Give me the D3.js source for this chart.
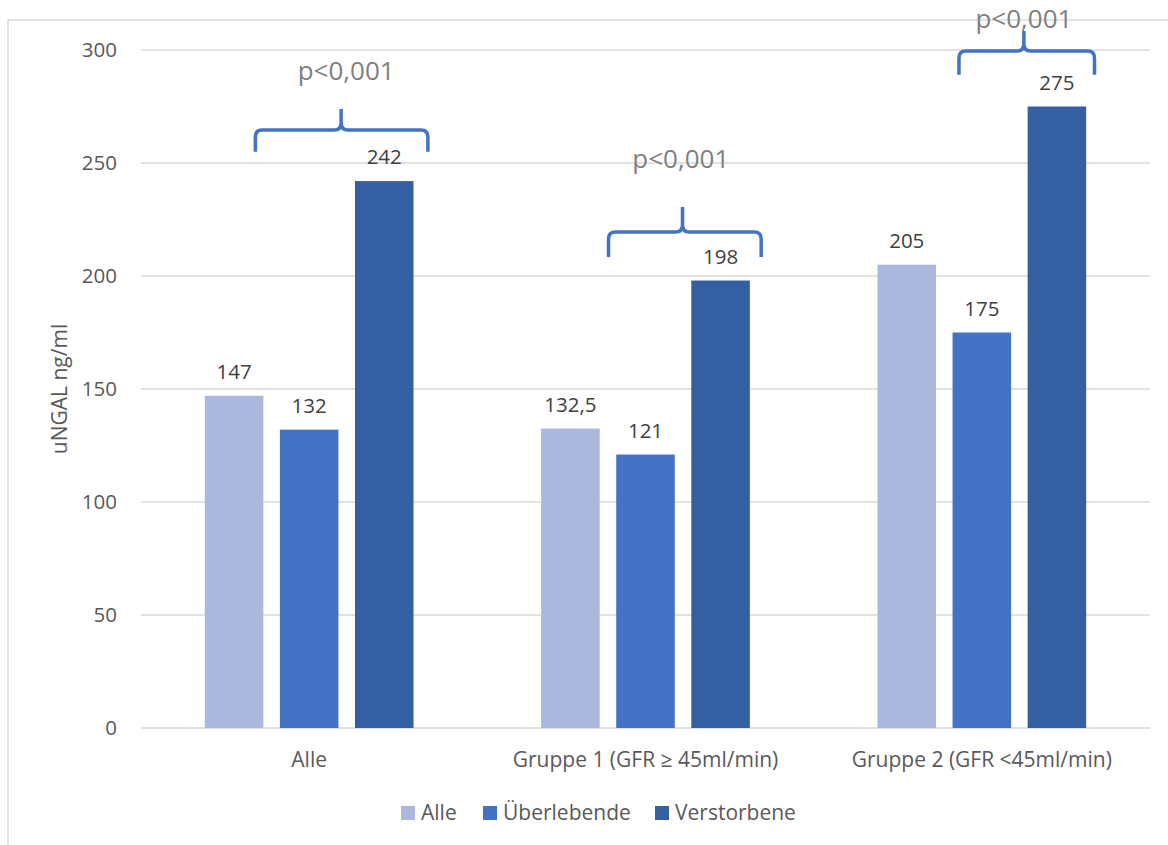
<!DOCTYPE html>
<html>
<head>
<meta charset="utf-8">
<script src="https://cdn.jsdelivr.net/npm/d3@7"></script>
<style>
  body { margin: 0; background: #fff; }
  svg text { font-family: "Open Sans", "Noto Sans", sans-serif; }
</style>
</head>
<body>
<div id="chart"></div>
<script>
let categories = ["Alle", "Gruppe 1 (GFR \u2265 45ml/min)", "Gruppe 2 (GFR <45ml/min)"];
let series = ["Alle", "Überlebende", "Verstorbene"];
let alle = [147, 132.5, 205];
let ueberlebende = [132, 121, 175];
let verstorbene = [242, 198, 275];
let yTicks = [0, 50, 100, 150, 200, 250, 300];
let pLabels = ["p<0,001", "p<0,001", "p<0,001"];

let values = [alle, ueberlebende, verstorbene];
let fmt = v => String(v).replace(".", ",");

let width = 1168, height = 845;
let color = d3.scaleOrdinal().domain(series).range(["#a9b8dc", "#4472c4", "#355fa3"]);

let svg = d3.select("#chart").append("svg")
  .attr("width", width)
  .attr("height", height);

// chart frame (right and bottom run off the picture)
svg.append("path")
  .attr("d", `M8,${height + 5} L8,20 L${width + 5},20`)
  .attr("fill", "none")
  .attr("stroke", "#d9d9d9")
  .attr("stroke-width", 1.5);

let x0 = d3.scaleBand().domain(categories).range([141, 1150]);
let x1 = d3.scaleBand().domain(series).range([0, x0.bandwidth()])
  .paddingInner(0.22).paddingOuter(0.85);
let y = d3.scaleLinear().domain([0, 300]).range([728, 50]);

// grid
svg.append("g")
  .selectAll("line")
  .data(yTicks)
  .join("line")
  .attr("x1", 141)
  .attr("x2", 1150)
  .attr("y1", d => y(d))
  .attr("y2", d => y(d))
  .attr("stroke", "#d9d9d9")
  .attr("stroke-width", 1.5);

svg.append("g")
  .selectAll("text")
  .data(yTicks)
  .join("text")
  .attr("x", 117)
  .attr("y", d => y(d))
  .attr("dy", "0.35em")
  .attr("text-anchor", "end")
  .attr("font-size", 20.5)
  .attr("fill", "#595959")
  .text(d => d);

svg.append("text")
  .attr("transform", `translate(67,${(y(0) + y(300)) / 2}) rotate(-90)`)
  .attr("text-anchor", "middle")
  .attr("font-size", 21)
  .attr("fill", "#595959")
  .text("uNGAL ng/ml");

// bars
let bars = [];
series.forEach((s, i) => {
  categories.forEach((c, j) => bars.push({ s: s, c: c, v: values[i][j] }));
});

svg.append("g")
  .selectAll("rect")
  .data(bars)
  .join("rect")
  .attr("x", d => x0(d.c) + x1(d.s))
  .attr("y", d => y(d.v))
  .attr("width", x1.bandwidth())
  .attr("height", d => y(0) - y(d.v))
  .attr("fill", d => color(d.s));

svg.append("g")
  .selectAll("text")
  .data(bars)
  .join("text")
  .attr("x", d => x0(d.c) + x1(d.s) + x1.bandwidth() / 2)
  .attr("y", d => y(d.v) - 17)
  .attr("text-anchor", "middle")
  .attr("font-size", 20.5)
  .attr("fill", "#404040")
  .text(d => fmt(d.v));

// category labels
svg.append("g")
  .selectAll("text")
  .data(categories)
  .join("text")
  .attr("x", d => x0(d) + x0.bandwidth() / 2)
  .attr("y", 767)
  .attr("text-anchor", "middle")
  .attr("font-size", 21)
  .attr("fill", "#595959")
  .text(d => d);

// significance braces: x as fraction of the category band, y in data units
let braces = [
  { left: 0.34, right: 0.853, mid: 0.595, bar: 264.6, end: 255, peak: 273.9, label: 286.7, tx: 0.61 },
  { left: 0.39, right: 0.844, mid: 0.61, bar: 219.5, end: 208.4, peak: 230.5, label: 248, tx: 0.605 },
  { left: 0.432, right: 0.835, mid: 0.625, bar: 299.6, end: 289, peak: 308.4, label: 309.7, tx: 0.625 }
];

let bw = x0.bandwidth();
braces.forEach((b, i) => {
  let c = categories[i];
  let xl = x0(c) + b.left * bw, xr = x0(c) + b.right * bw, xm = x0(c) + b.mid * bw;
  let yh = y(b.bar), ye = y(b.end), yp = y(b.peak);
  let r = 7;
  let p = d3.path();
  p.moveTo(xl, ye);
  p.lineTo(xl, yh + r);
  p.quadraticCurveTo(xl, yh, xl + r, yh);
  p.lineTo(xm - r, yh);
  p.quadraticCurveTo(xm, yh, xm, yh - r);
  p.lineTo(xm, yp);
  p.moveTo(xm, yh - r);
  p.quadraticCurveTo(xm, yh, xm + r, yh);
  p.lineTo(xr - r, yh);
  p.quadraticCurveTo(xr, yh, xr, yh + r);
  p.lineTo(xr, ye);
  svg.append("path")
    .attr("d", p.toString())
    .attr("fill", "none")
    .attr("stroke", "#4472c4")
    .attr("stroke-width", 3.5);
  svg.append("text")
    .attr("x", x0(c) + b.tx * bw)
    .attr("y", y(b.label))
    .attr("text-anchor", "middle")
    .attr("font-size", 26)
    .attr("fill", "#808080")
    .text(pLabels[i]);
});

// legend
let legend = svg.append("g").attr("transform", "translate(401,813)");
let lx = [0, 82, 254];
let item = legend.selectAll("g")
  .data(series)
  .join("g")
  .attr("transform", (d, i) => `translate(${lx[i]},0)`);
item.append("rect")
  .attr("x", 0)
  .attr("y", -7)
  .attr("width", 14)
  .attr("height", 14)
  .attr("fill", d => color(d));
item.append("text")
  .attr("x", 20)
  .attr("dy", "0.35em")
  .attr("font-size", 21)
  .attr("fill", "#595959")
  .text(d => d);
</script>
</body>
</html>
